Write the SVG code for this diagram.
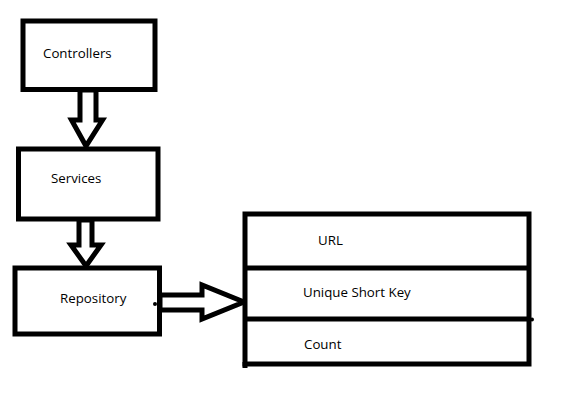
<svg xmlns="http://www.w3.org/2000/svg" width="588" height="415" viewBox="0 0 588 415">
<style>
.box{fill:#fff;stroke:#000;stroke-width:5}
.line{fill:none;stroke:#000;stroke-width:5}
.arrow{fill:#fff;stroke:#000;stroke-width:5;stroke-linejoin:miter}
.lbl{font-family:"Open Sans","Liberation Sans",sans-serif;font-size:13.3px;fill:#000}
</style>
<rect width="588" height="415" fill="#fff"/>
<g id="connectors">
<polygon class="arrow" points="80,90 80,120 71.5,120 86,146 102.5,120 96,120 96,90"/>
<polygon class="arrow" points="79,220 79,245 71,245 86,266 101,245 92,245 92,220"/>
<polygon class="arrow" points="160,295 202,295 202,285 244,302 202,319 202,310 160,310"/>
</g>
<g id="controllers">
<rect class="box" x="23" y="21" width="132" height="68.5"/>
<text class="lbl" x="43" y="58">Controllers</text>
</g>
<g id="services">
<rect class="box" x="18.5" y="149" width="139.5" height="70"/>
<text class="lbl" x="51" y="183">Services</text>
</g>
<g id="repository">
<rect class="box" x="15" y="268" width="144.5" height="66"/>
<circle cx="155" cy="304" r="2" fill="#000"/>
<text class="lbl" x="60" y="303">Repository</text>
</g>
<g id="table">
<rect class="box" x="245" y="214" width="284" height="150"/>
<line class="line" x1="245" y1="362" x2="245" y2="368"/>
<line class="line" x1="245" y1="268" x2="529" y2="268"/>
<line class="line" x1="245" y1="319" x2="531" y2="319"/>
<circle cx="532" cy="319.5" r="2" fill="#000"/>
<text class="lbl" x="318" y="245">URL</text>
<text class="lbl" x="303" y="297">Unique Short Key</text>
<text class="lbl" x="304" y="349">Count</text>
</g>
</svg>
